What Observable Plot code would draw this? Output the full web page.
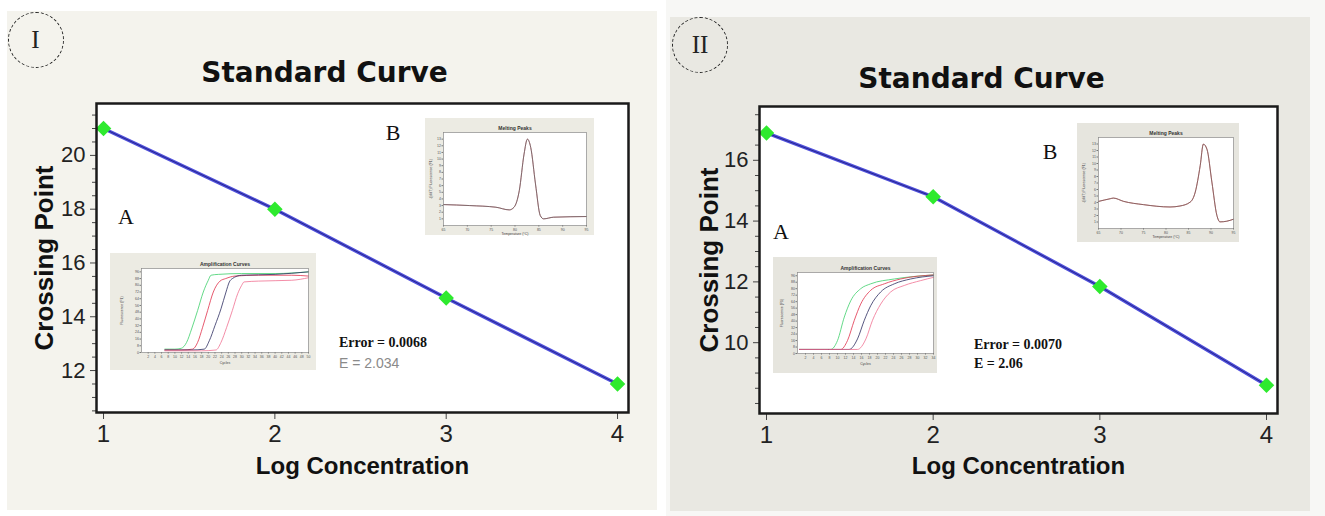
<!DOCTYPE html>
<html><head><meta charset="utf-8">
<script src="https://cdn.jsdelivr.net/npm/d3@7"></script>
<script src="https://cdn.jsdelivr.net/npm/@observablehq/plot@0.6"></script>
<style>
body{margin:0;width:1325px;height:516px;background:#ffffff;position:relative;overflow:hidden;font-family:"Liberation Sans",Arial,sans-serif}
.abs{position:absolute}
.circ{position:absolute;width:54px;height:54px;border:1.4px dashed #222;border-radius:50%;display:flex;align-items:center;justify-content:center;font-family:"Liberation Serif","DejaVu Serif",serif;font-size:25px;color:#222}
.lab{position:absolute;transform:translate(-50%,-50%);font-family:"Liberation Serif","DejaVu Serif",serif;font-size:22px;color:#111}
.err{position:absolute;font-family:"Liberation Serif","DejaVu Serif",serif;font-size:14px;font-weight:bold;color:#111;white-space:nowrap;transform:translateY(-50%)}
.err2{position:absolute;font-family:"Liberation Sans",Arial,sans-serif;font-size:14px;color:#8a8a8a;white-space:nowrap;transform:translateY(-50%)}
</style></head><body>
<script>
// ---------- data ----------
const logConc = [1, 2, 3, 4];
const crossingI = [21.0, 18.0, 14.7, 11.5];
const crossingII = [16.9, 14.8, 11.85, 8.6];
const xTicks = [1, 2, 3, 4];
const yTicksI = [12, 14, 16, 18, 20];
const yMinorI = [10.5, 11, 11.5, 12.5, 13, 13.5, 14.5, 15, 15.5, 16.5, 17, 17.5, 18.5, 19, 19.5, 20.5, 21, 21.5];
const yTicksII = [10, 12, 14, 16];
const yMinorII = [8, 8.5, 9, 9.5, 10.5, 11, 11.5, 12.5, 13, 13.5, 14.5, 15, 15.5, 16.5, 17, 17.5];

// amplification curves, panel I  [cycle, fluorescence]
const ampI_green = [[7,4],[10,4],[11.9,5],[13.5,12],[15,28],[16.8,50],[18.5,72],[20,86],[20.8,92],[23,93],[30,94],[40,94],[50,96]];
const ampI_red   = [[7,3],[12,3],[15.3,4],[16.8,12],[18.3,30],[19.8,50],[21.5,72],[23.5,85],[25.2,88],[28,91],[35,92],[45,92],[50,91]];
const ampI_dark  = [[7,3],[15,3],[18.8,4],[20.3,14],[22,32],[23.8,52],[25.3,72],[26.3,84],[27.2,88],[30,92],[40,93],[50,96]];
const ampI_pink  = [[7,2],[18,2],[22.3,3],[23.8,12],[25.5,30],[27.2,50],[28.8,70],[30,80],[30.7,84],[35,85],[45,86],[50,89]];
// amplification curves, panel II
const ampII_green = [[0.5,5],[8.3,5],[10,16],[11.7,45],[13.3,65],[15.8,80],[18.3,86],[24.2,92],[34,97]];
const ampII_red   = [[0.5,5],[10.8,5],[12.5,16],[14.2,41],[15.8,61],[18.3,78],[21.7,86],[25.8,92],[34,97]];
const ampII_dark  = [[0.5,5],[12.9,5],[15,18],[16.7,41],[18.3,59],[20.8,76],[24.2,86],[28.3,92],[34,96]];
const ampII_pink  = [[0.5,5],[15,5],[17.1,18],[18.75,41],[20.8,61],[23.3,76],[26.7,84],[30.8,90],[34,94]];
// melting peaks [temperature, -dF/dT]
const meltI = [[65,3.15],[70.5,3.0],[76,2.75],[78.8,2.35],[79.8,2.75],[80.9,5.25],[81.9,10.75],[82.6,13],[83.3,11.75],[84.3,6.25],[85.3,1.5],[86,1.0],[88.1,1.25],[95,1.35]];
const meltII = [[65,4.17],[67.6,4.58],[68.3,4.68],[70.6,4.17],[75,3.67],[80.9,3.31],[83.1,3.46],[85.4,4.07],[86.5,5.6],[87.6,9.67],[88.3,12.98],[89.1,12.2],[90.2,7.13],[91.3,2.04],[92,1.02],[93.5,1.12],[95,1.43]];
const ampTicksXI = [2,4,6,8,10,12,14,16,18,20,22,24,26,28,30,32,34,36,38,40,42,44,46,48,50];
const ampTicksXII = [2,4,6,8,10,12,14,16,18,20,22,24,26,28,30,32,34];
const ampTicksY = [0,8,16,24,32,40,48,56,64,72,80,88,96];
const meltTicksX = [65,70,75,80,85,90,95];
const meltTicksY = [1,2,3,4,5,6,7,8,9,10,11,12,13];

// ---------- helpers ----------
function place(node, left, top) {
  const d = document.createElement("div");
  d.className = "abs";
  d.style.left = left + "px"; d.style.top = top + "px";
  d.appendChild(node);
  document.body.appendChild(d);
  return d;
}
function html(cls, text, left, top) {
  const d = document.createElement("div");
  d.className = cls; d.textContent = text;
  d.style.left = left + "px"; d.style.top = top + "px";
  document.body.appendChild(d);
}
const sans = "Liberation Sans, Arial, sans-serif";

function mainPlot(o) {
  const rows = logConc.map((x, i) => ({x, y: o.values[i]}));
  return Plot.plot({
    width: o.width, height: o.height,
    marginLeft: o.ml, marginRight: o.mr, marginTop: o.mt, marginBottom: o.mb,
    style: {background: o.bg, fontFamily: sans, fontSize: "21px", color: "#222", overflow: "visible"},
    x: {domain: o.xDomain},
    y: {domain: o.yDomain},
    marks: [
      Plot.frame({fill: "white", stroke: "none"}),
      Plot.axisY({ticks: o.yMinor, tickSize: 4, tickFormat: () => "", label: null, stroke: "#444"}),
      Plot.axisY({ticks: o.yTicks, tickSize: 6, tickPadding: 5, tickFormat: d => String(d), label: null, fontSize: 22, stroke: "#444"}),
      Plot.axisX({ticks: xTicks, tickSize: 7, tickPadding: 5, tickFormat: d => String(d), label: null, fontSize: 24, stroke: "#444"}),
      Plot.line(rows, {x: "x", y: "y", stroke: "#5050dc", strokeWidth: 3.4}),
      Plot.line(rows, {x: "x", y: "y", stroke: "#1c1c7a", strokeWidth: 1, strokeOpacity: 0.8}),
      Plot.dot(rows, {x: "x", y: "y", symbol: "square", rotate: 45, r: 6.2, fill: "#2eea2e", stroke: "none"}),
      Plot.frame({stroke: "#1a1a1a", strokeWidth: 2.5}),
      Plot.text(["Standard Curve"], {text: d => d, frameAnchor: "top", dx: o.titleDx, dy: o.titleDy, fontSize: 28, fontWeight: "bold", fontFamily: "DejaVu Sans, sans-serif", fill: "#111"}),
      Plot.text(["Crossing Point"], {text: d => d, frameAnchor: "left", textAnchor: "middle", dx: o.ylabDx, rotate: -90, fontSize: 26, fontWeight: "bold", fill: "#111"}),
      Plot.text(["Log Concentration"], {text: d => d, frameAnchor: "bottom", dy: o.xlabDy, fontSize: 24, fontWeight: "bold", fill: "#111"})
    ]
  });
}

function inset(o) {
  return Plot.plot({
    width: o.width, height: o.height,
    marginLeft: o.ml, marginRight: o.mr, marginTop: o.mt, marginBottom: o.mb,
    style: {background: o.bg, fontFamily: sans, fontSize: "3.5px", color: "#555", overflow: "visible"},
    x: {domain: o.xDomain},
    y: {domain: o.yDomain},
    marks: [
      Plot.frame({fill: "white", stroke: "none"}),
      Plot.axisX({ticks: o.xTicks, tickSize: 1.5, tickPadding: 1, tickFormat: d => String(d), label: null, fontSize: 3.5, stroke: "#777"}),
      Plot.axisY({ticks: o.yTicks, tickSize: 1.5, tickPadding: 1, tickFormat: d => String(d), label: null, fontSize: 3.5, stroke: "#777"}),
      ...o.series.map(s => Plot.line(s.data, {x: d => d[0], y: d => d[1], stroke: s.stroke, strokeWidth: s.w || 0.8, strokeOpacity: s.op || 1, curve: "monotone-x"})),
      Plot.frame({stroke: "#8a8a8a", strokeWidth: 0.7}),
      Plot.text([o.title], {text: d => d, frameAnchor: "top", dy: -6, fontSize: 5, fontWeight: "bold", fill: "#333"}),
      Plot.text([o.xlabel], {text: d => d, frameAnchor: "bottom", dy: o.xlabDy, fontSize: 3.5, fill: "#444"}),
      Plot.text([o.ylabel], {text: d => d, frameAnchor: "left", textAnchor: "middle", dx: o.ylabDx, rotate: -90, fontSize: 3.5, fill: "#444"})
    ]
  });
}

// ---------- panel I ----------
place(mainPlot({
  values: crossingI, width: 650, height: 499, ml: 89, mr: 29, mt: 92, mb: 98, bg: "#f4f3ed",
  xDomain: [0.959, 4.064], yDomain: [10.44, 21.93], yTicks: yTicksI, yMinor: yMinorI,
  titleDx: -38, titleDy: -41, ylabDx: -52, xlabDy: 61
}), 7, 11);

// ---------- panel II ----------
const outer = document.createElement("div");
outer.className = "abs";
Object.assign(outer.style, {left: "666px", top: "0px", width: "659px", height: "516px", background: "#f7f7f5"});
document.body.appendChild(outer);
place(mainPlot({
  values: crossingII, width: 640, height: 494, ml: 89, mr: 33, mt: 89, mb: 98, bg: "#e9e8e2",
  xDomain: [0.958, 4.066], yDomain: [7.67, 17.77], yTicks: yTicksII, yMinor: yMinorII,
  titleDx: -37, titleDy: -38, ylabDx: -50, xlabDy: 60
}), 670, 17);

// ---------- insets ----------
place(inset({
  width: 206, height: 117, ml: 31, mr: 8, mt: 15, mb: 18, bg: "#ecebe3",
  xDomain: [0, 50], yDomain: [0, 100], xTicks: ampTicksXI, yTicks: ampTicksY,
  title: "Amplification Curves", xlabel: "Cycles", ylabel: "Fluorescence (F1)", xlabDy: 11, ylabDx: -20,
  series: [{data: ampI_green, stroke: "#3ccf6a"}, {data: ampI_red, stroke: "#e0304a"}, {data: ampI_dark, stroke: "#2c2c60"}, {data: ampI_pink, stroke: "#f07090"}]
}), 110, 253);

place(inset({
  width: 169, height: 117, ml: 18, mr: 8, mt: 14, mb: 10, bg: "#ecebe3",
  xDomain: [65, 95], yDomain: [0, 14], xTicks: meltTicksX, yTicks: meltTicksY,
  title: "Melting Peaks", xlabel: "Temperature (°C)", ylabel: "-(d/dT) Fluorescence (F1)", xlabDy: 9, ylabDx: -13,
  series: [{data: meltI, stroke: "#c04050", w: 1.0, op: 0.6}, {data: meltI, stroke: "#5a5a5a", w: 0.8, op: 0.9}]
}), 425, 118);

place(inset({
  width: 164, height: 116, ml: 24, mr: 4, mt: 15, mb: 20, bg: "#e6e5de",
  xDomain: [0, 34], yDomain: [0, 100], xTicks: ampTicksXII, yTicks: ampTicksY,
  title: "Amplification Curves", xlabel: "Cycles", ylabel: "Fluorescence (F1)", xlabDy: 11, ylabDx: -16,
  series: [{data: ampII_green, stroke: "#3ccf6a"}, {data: ampII_red, stroke: "#e0304a"}, {data: ampII_dark, stroke: "#2c2c60"}, {data: ampII_pink, stroke: "#f07090"}]
}), 773, 257);

place(inset({
  width: 162, height: 119, ml: 21, mr: 6, mt: 14, mb: 14, bg: "#e6e5de",
  xDomain: [65, 95], yDomain: [0, 14], xTicks: meltTicksX, yTicks: meltTicksY,
  title: "Melting Peaks", xlabel: "Temperature (°C)", ylabel: "-(d/dT) Fluorescence (F1)", xlabDy: 9, ylabDx: -15,
  series: [{data: meltII, stroke: "#c03030", w: 1.0, op: 0.7}, {data: meltII, stroke: "#5a5a5a", w: 0.8, op: 0.75}]
}), 1077, 123);

// ---------- annotations ----------
html("circ", "I", 7.5, 12);
html("circ", "II", 672, 17);
html("lab", "A", 126, 217);
html("lab", "B", 393, 133);
html("lab", "A", 781, 232);
html("lab", "B", 1050, 152);
html("err", "Error = 0.0068", 339, 343);
html("err2", "E =  2.034", 339, 363);
html("err", "Error = 0.0070", 974, 345);
html("err", "E = 2.06", 974, 364);
</script>
</body></html>
